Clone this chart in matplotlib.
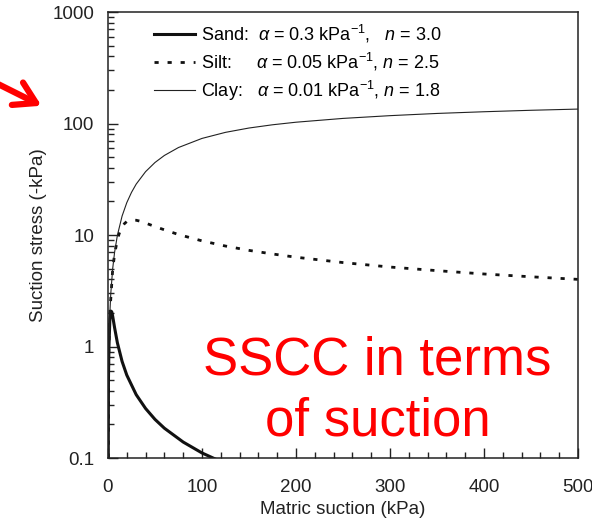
import matplotlib
matplotlib.use("Agg")
import matplotlib.pyplot as plt

plt.rcParams['font.family'] = ['Liberation Sans', 'DejaVu Sans']
plt.rcParams['mathtext.fontset'] = 'custom'
plt.rcParams['mathtext.rm'] = 'Liberation Sans'
plt.rcParams['mathtext.it'] = 'Liberation Sans:italic'

# values (kPa)
sand_psi = [0, 0.5, 1, 2, 3, 4, 5, 7, 10, 15, 20, 30, 40, 50, 60, 80, 100, 120]
sand_ss = [0.01, 0.5, 0.98, 1.76, 2.08, 2.05, 1.87, 1.48, 1.08, 0.735, 0.554,
           0.370, 0.278, 0.222, 0.185, 0.139, 0.111, 0.093]

silt_psi = [0, 0.5, 1, 2, 5, 7, 10, 12, 15, 17.5, 20, 25, 30, 35, 40, 50, 60,
            75, 100, 125, 150, 175, 200, 250, 300, 350, 400, 450, 500]
silt_ss = [0.01, 0.5, 1.0, 2.0, 4.91, 6.71, 9.07, 10.35, 11.8, 12.65, 13.2,
           13.6, 13.56, 13.25, 12.8, 11.9, 11.13, 10.1, 8.86, 7.96, 7.28, 6.76,
           6.32, 5.66, 5.16, 4.79, 4.47, 4.22, 4.0]

clay_psi = [0, 0.5, 1, 2, 3, 5, 7, 10, 15, 20, 25, 30, 40, 50, 60, 75, 100,
            125, 150, 175, 200, 250, 300, 350, 400, 450, 500]
clay_ss = [0.01, 0.5, 1.0, 2.0, 3.0, 4.99, 6.97, 9.93, 14.79, 19.5, 24.1, 28.6,
           37.0, 44.7, 51.7, 60.9, 73.5, 83.3, 91.1, 97.4, 102.7, 111.1, 117.6,
           123.1, 127.5, 131.4, 134.7]

labels = [r"Sand:  $\alpha$ = 0.3 kPa$^{-1}$,   $n$ = 3.0",
          r"Silt:     $\alpha$ = 0.05 kPa$^{-1}$, $n$ = 2.5",
          r"Clay:   $\alpha$ = 0.01 kPa$^{-1}$, $n$ = 1.8"]

fig = plt.figure(figsize=(5.92, 5.22), dpi=100)
ax = fig.add_axes([0.1824, 0.1226, 0.794, 0.8544])

ax.plot(sand_psi, sand_ss, color='#111111', lw=2.2, label=labels[0])
ax.plot(silt_psi, silt_ss, color='#111111', lw=2.0,
        linestyle=(0, (1.5, 3.2)), label=labels[1])
ax.plot(clay_psi, clay_ss, color='#222222', lw=0.8, label=labels[2])

ax.set_yscale('log')
ax.set_xlim(0, 500)
ax.set_ylim(0.1, 1000)
ax.set_xticks([0, 100, 200, 300, 400, 500])
ax.set_xticks(range(0, 501, 20), minor=True)
ax.set_yticks([0.1, 1, 10, 100, 1000])
ax.set_yticklabels(['0.1', '1', '10', '100', '1000'])
ax.tick_params(which='both', direction='in', top=False, right=False,
               labelsize=13.5, colors='#222222', width=1)
ax.tick_params(which='major', length=7)
ax.tick_params(which='minor', length=4)
ax.tick_params(axis='x', which='major', pad=15)
ax.tick_params(axis='y', which='major', pad=10)
for s in ax.spines.values():
    s.set_linewidth(1.1)
    s.set_color('#222222')

ax.set_xlabel('Matric suction (kPa)', fontsize=13.5, color='#222222', labelpad=4)
ax.set_ylabel('Suction stress (-kPa)', fontsize=13.5, color='#222222', labelpad=4)

ax.legend(loc='upper left', bbox_to_anchor=(0.063, 1.012), frameon=False,
          fontsize=13, handlelength=2.3, handletextpad=0.3, labelspacing=0.32)

ax.text(0.573, 0.15, 'SSCC in terms\nof suction', transform=ax.transAxes,
        ha='center', va='center', color='#ff0000', fontsize=38,
        linespacing=1.28)

ax.annotate('', xy=(44 / 592, 1 - 107 / 522), xycoords='figure fraction',
            xytext=(-6 / 592, 1 - 82 / 522), textcoords='figure fraction',
            arrowprops=dict(arrowstyle='->,head_length=1.5,head_width=0.9',
                            color='#ff0000', lw=4.5), annotation_clip=False)

fig.savefig('out.png', dpi=100)
